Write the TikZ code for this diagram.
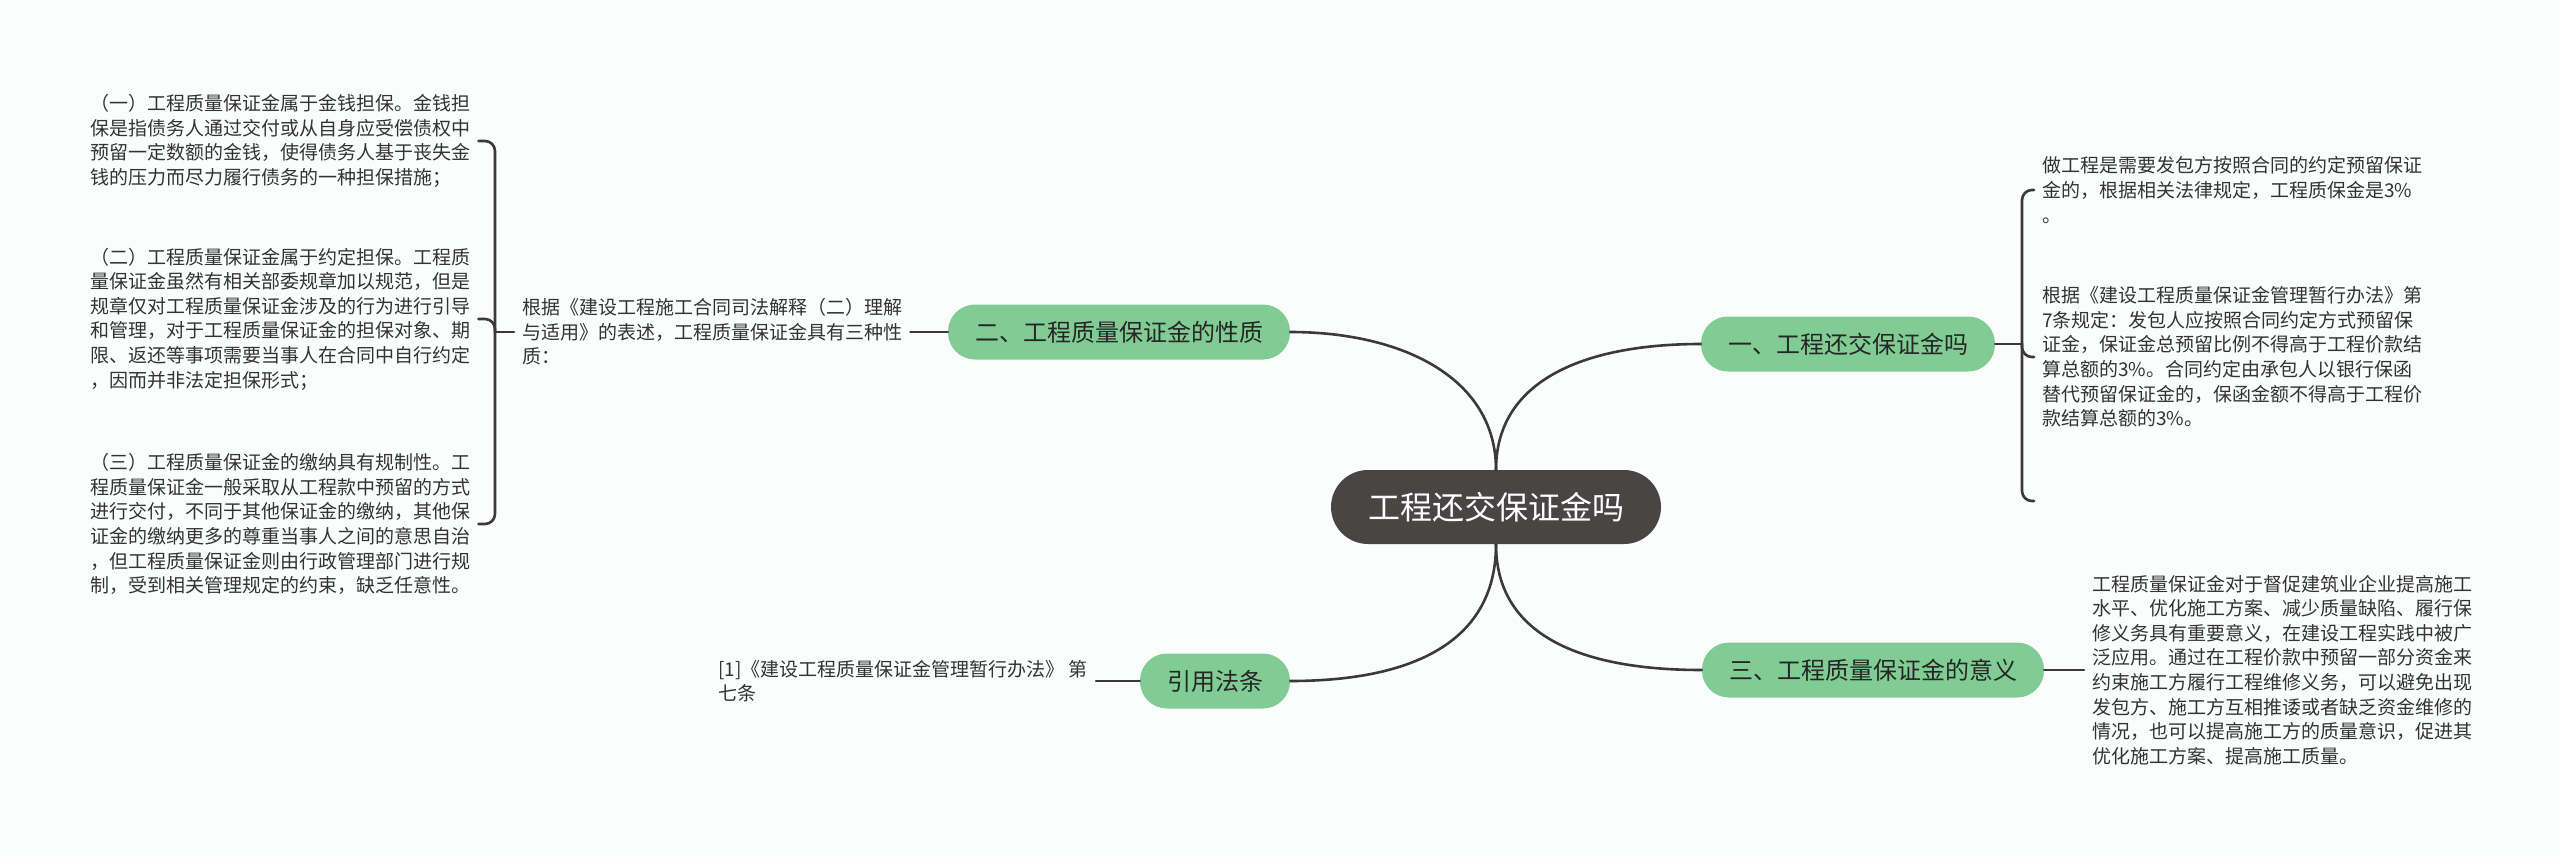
\documentclass[tikz,border=0pt]{standalone}
\usepackage{fontspec}
\setmainfont{Noto Sans CJK SC}
\usetikzlibrary{positioning}
\definecolor{topicgreen}{RGB}{128,204,148}
\definecolor{rootgrey}{RGB}{74,69,69}
\definecolor{linegrey}{RGB}{58,58,58}
\definecolor{textgrey}{RGB}{51,51,51}
\definecolor{bgtint}{RGB}{251,253,253}
\begin{document}
\begin{tikzpicture}[x=1pt,y=-1pt,line cap=round,line join=round,
  link/.style={draw=linegrey,line width=2.6pt},
  topic/.style={fill=topicgreen,text=black!85,rounded corners=27pt,minimum height=55pt,inner xsep=27pt,font=\fontsize{24}{28}\selectfont},
  rootbox/.style={fill=rootgrey,text=white,rounded corners=37pt,minimum height=74pt,inner xsep=37pt,font=\fontsize{32}{36}\selectfont},
  txt/.style={text=textgrey,align=left,anchor=west,inner xsep=8pt,inner ysep=0pt,font=\fontsize{19}{24.6}\selectfont}]
\fill[bgtint] (0,0) rectangle (2560,857);
\useasboundingbox (0,0) rectangle (2560,857);
\node[rootbox] (root) at (1496,507) {工程还交保证金吗};
\node[topic] (n1) at (1848,344) {一、工程还交保证金吗};
\node[topic] (n2) at (1119,332) {二、工程质量保证金的性质};
\node[topic] (n3) at (1873,670) {三、工程质量保证金的意义};
\node[topic] (ref) at (1215,681) {引用法条};
\node[txt] (tA) at (2034,190) {做工程是需要发包方按照合同的约定预留保证\\金的，根据相关法律规定，工程质保金是3\%\\。};
\node[txt] (tB) at (2034,357) {根据《建设工程质量保证金管理暂行办法》第\\7条规定：发包人应按照合同约定方式预留保\\证金，保证金总预留比例不得高于工程价款结\\算总额的3\%。合同约定由承包人以银行保函\\替代预留保证金的，保函金额不得高于工程价\\款结算总额的3\%。};
\coordinate (b1end) at (2034,501);
\node[txt] (tC) at (2084,670) {工程质量保证金对于督促建筑业企业提高施工\\水平、优化施工方案、减少质量缺陷、履行保\\修义务具有重要意义，在建设工程实践中被广\\泛应用。通过在工程价款中预留一部分资金来\\约束施工方履行工程维修义务，可以避免出现\\发包方、施工方互相推诿或者缺乏资金维修的\\情况，也可以提高施工方的质量意识，促进其\\优化施工方案、提高施工质量。};
\node[txt] (tD) at (514,332) {根据《建设工程施工合同司法解释（二）理解\\与适用》的表述，工程质量保证金具有三种性\\质：};
\node[txt] (tE1) at (82,141) {（一）工程质量保证金属于金钱担保。金钱担\\保是指债务人通过交付或从自身应受偿债权中\\预留一定数额的金钱，使得债务人基于丧失金\\钱的压力而尽力履行债务的一种担保措施；};
\node[txt] (tE2) at (82,319) {（二）工程质量保证金属于约定担保。工程质\\量保证金虽然有相关部委规章加以规范，但是\\规章仅对工程质量保证金涉及的行为进行引导\\和管理，对于工程质量保证金的担保对象、期\\限、返还等事项需要当事人在合同中自行约定\\，因而并非法定担保形式；};
\node[txt] (tE3) at (82,524) {（三）工程质量保证金的缴纳具有规制性。工\\程质量保证金一般采取从工程款中预留的方式\\进行交付，不同于其他保证金的缴纳，其他保\\证金的缴纳更多的尊重当事人之间的意思自治\\，但工程质量保证金则由行政管理部门进行规\\制，受到相关管理规定的约束，缺乏任意性。};
\node[txt] (tF) at (710,681) {[1]《建设工程质量保证金管理暂行办法》 第\\七条};
\coordinate (j1) at (2022,344);
\coordinate (j2) at (495,332);
\draw[link] (root.north) .. controls +(0,-92) and +(-112,0) .. (n1.west);
\draw[link] (root.north) .. controls +(0,-92) and +(112,0) .. (n2.east);
\draw[link] (root.south) .. controls +(0,96) and +(-112,0) .. (n3.west);
\draw[link] (root.south) .. controls +(0,104) and +(112,0) .. (ref.east);
\draw[link] (n1.east) -- (j1);
\draw[link,rounded corners=10pt] (j1) |- (tA.west);
\draw[link,rounded corners=10pt] (j1) |- (tB.west);
\draw[link,rounded corners=10pt] (j1) |- (b1end);
\draw[link] (n3.east) -- (tC.west);
\draw[link] (tD.east) -- (n2.west);
\draw[link] (tD.west) -- (j2);
\draw[link,rounded corners=10pt] (j2) |- (tE1.east);
\draw[link,rounded corners=10pt] (j2) |- (tE2.east);
\draw[link,rounded corners=10pt] (j2) |- (tE3.east);
\draw[link] (tF.east) -- (ref.west);
\end{tikzpicture}
\end{document}
